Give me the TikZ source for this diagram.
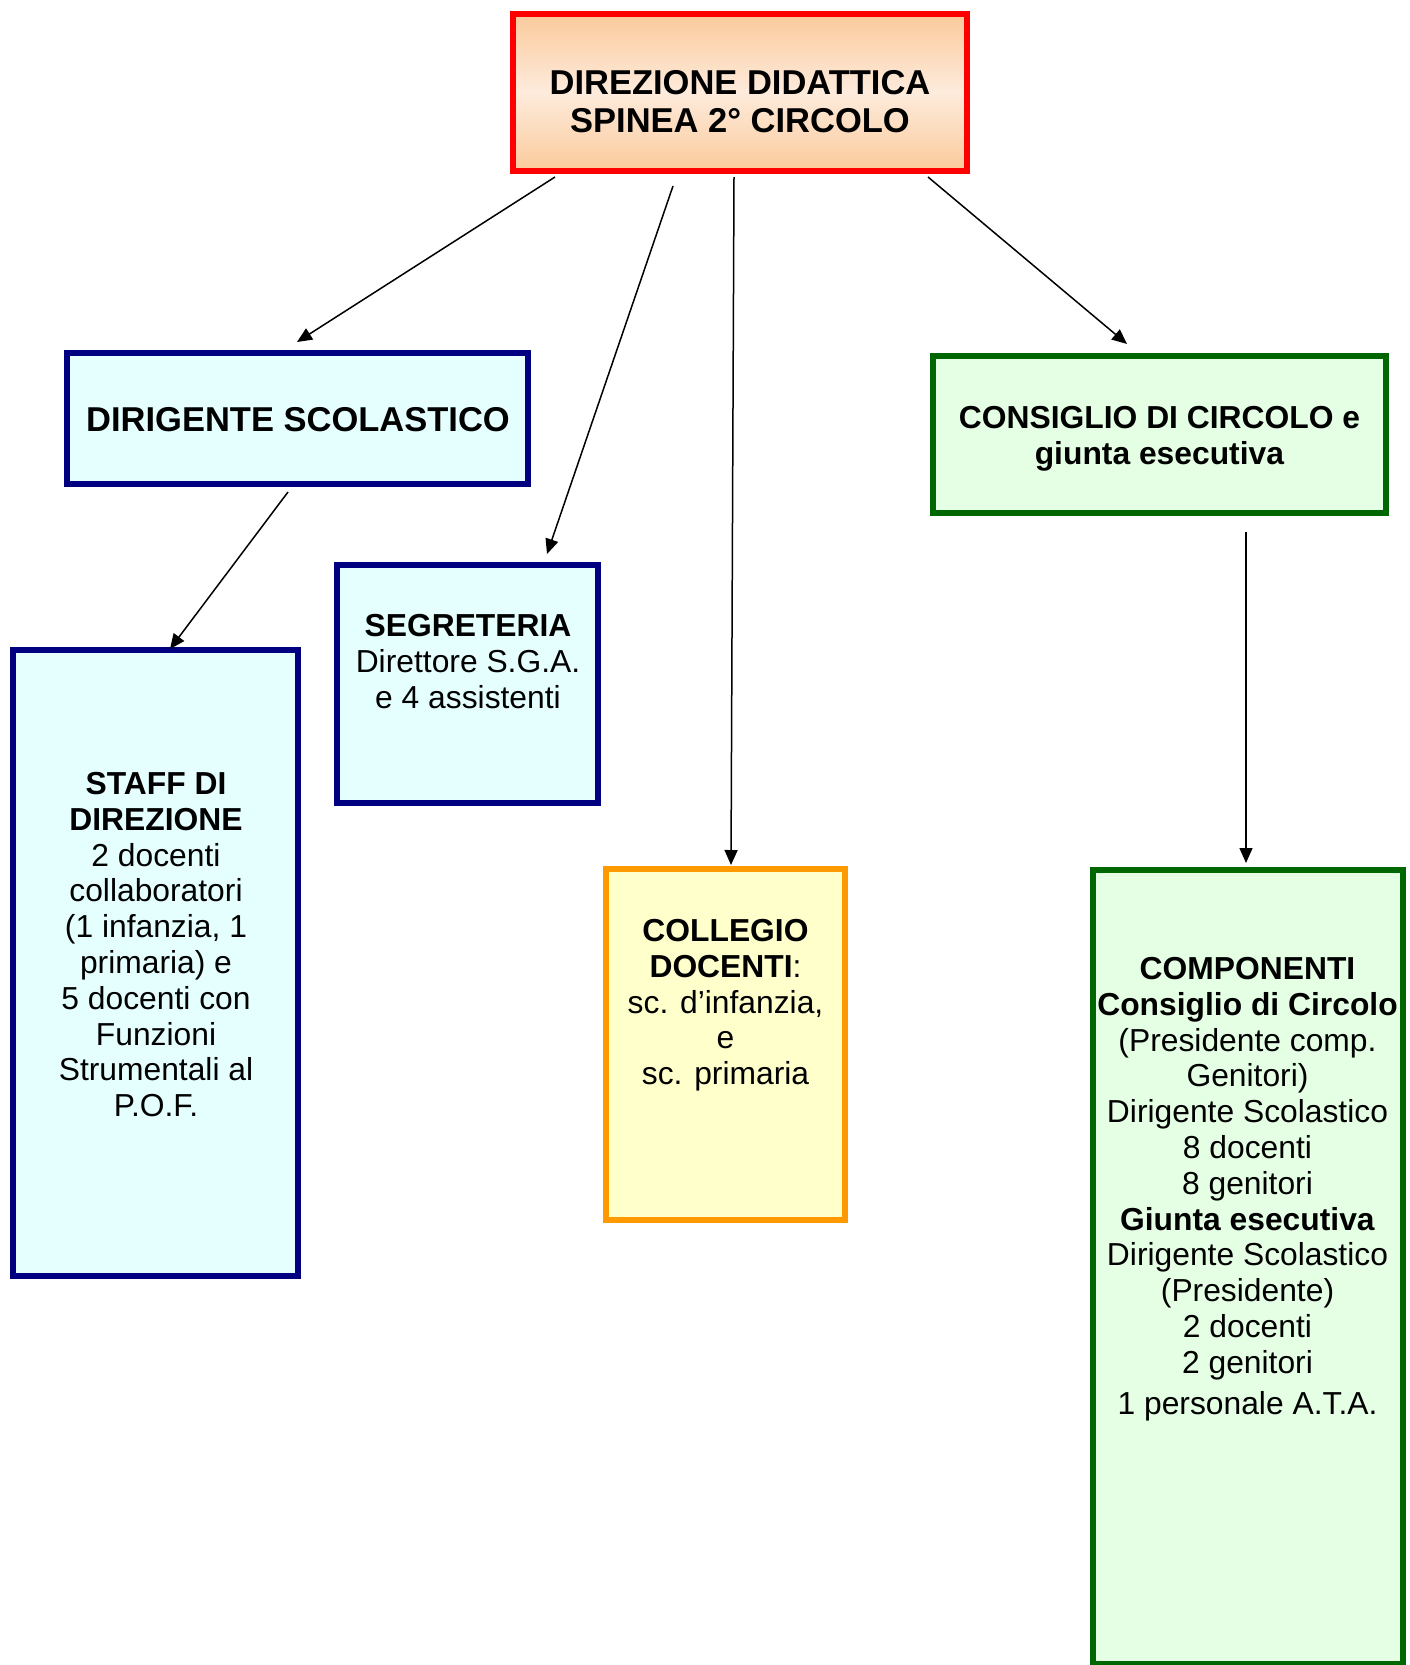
\documentclass[tikz,border=0pt]{standalone}
\usepackage{fontspec}
\setmainfont{Liberation Sans}
\usetikzlibrary{arrows.meta}
\definecolor{navyb}{HTML}{000080}
\definecolor{cyanf}{HTML}{E5FFFF}
\definecolor{greenb}{HTML}{006600}
\definecolor{greenf}{HTML}{E5FFE5}
\definecolor{orangeb}{HTML}{FF9900}
\definecolor{yellowf}{HTML}{FFFFCC}
\definecolor{peachd}{HTML}{FBCA9B}
\definecolor{peachl}{HTML}{FDEBDC}
\definecolor{redb}{HTML}{FF0000}
\begin{document}
\begin{tikzpicture}[x=1pt,y=-1pt,
  boxbase/.style={draw, line width=5.5pt, inner sep=0pt, anchor=north west},
  bluebox/.style={boxbase, draw=navyb, fill=cyanf},
  greenbox/.style={boxbase, draw=greenb, fill=greenf},
  orangebox/.style={boxbase, draw=orangeb, fill=yellowf},
  redbox/.style={boxbase, draw=redb, top color=peachd, bottom color=peachd, middle color=peachl},
  txt/.style={inner sep=0pt, anchor=north, align=center, font=\fontsize{31.8}{35.8}\selectfont},
  bigtxt/.style={inner sep=0pt, anchor=north, align=center, font=\fontsize{34.5}{37.5}\selectfont},
  conn/.style={line width=1.5pt, -{Triangle[length=15pt,width=13pt]}}
]
\path[fill=white,use as bounding box] (0,0) rectangle (1409,1665);

% boxes
\node[redbox, minimum width=454pt, minimum height=157pt] (top) at (510,11) {};
\node[bluebox, minimum width=461pt, minimum height=131pt] (dir) at (64,350) {};
\node[greenbox, minimum width=453pt, minimum height=157pt] (cons) at (930,353) {};
\node[bluebox, minimum width=261pt, minimum height=238pt] (seg) at (334,562) {};
\node[bluebox, minimum width=285pt, minimum height=626pt] (staff) at (10,647) {};
\node[orangebox, minimum width=239pt, minimum height=351pt] (coll) at (603,866) {};
\node[greenbox, minimum width=310pt, minimum height=794pt] (comp) at (1090,867) {};

% texts
\node[bigtxt] (topt) at (740,68.5) {\strut\textbf{DIREZIONE DIDATTICA}\\\textbf{SPINEA 2° CIRCOLO}};
\node[bigtxt] (dirt) at (298,405) {\strut\textbf{DIRIGENTE SCOLASTICO}};
\node[txt] (const) at (1159.5,403.3) {\strut\textbf{CONSIGLIO DI CIRCOLO e}\\\textbf{giunta esecutiva}};
\node[txt] (segt) at (468,611.3) {\strut\textbf{SEGRETERIA}\\Direttore S.G.A.\\e 4 assistenti};
\node[txt] (stafft) at (156,769.3) {\strut\textbf{STAFF DI}\\\textbf{DIREZIONE}\\2 docenti\\collaboratori\\(1 infanzia, 1\\primaria) e\\5 docenti con\\Funzioni\\Strumentali al\\P.O.F.};
\node[txt] (collt) at (725.5,916.3) {\strut\textbf{COLLEGIO}\\\textbf{DOCENTI}:\\sc. d’infanzia,\\e\\sc. primaria};
\node[txt] (compt) at (1247.5,954.3) {\strut\textbf{COMPONENTI}\\\textbf{Consiglio di Circolo}\\(Presidente comp.\\Genitori)\\Dirigente Scolastico\\8 docenti\\8 genitori\\\textbf{Giunta esecutiva}\\Dirigente Scolastico\\(Presidente)\\2 docenti\\2 genitori\\[5pt]1 personale A.T.A.};

% connector ends
\coordinate (a1s) at (555,177);  \coordinate (a1e) at (297,342);
\coordinate (a2s) at (673,186);  \coordinate (a2e) at (547,554);
\coordinate (a3s) at (734,177);  \coordinate (a3e) at (731,865);
\coordinate (a4s) at (928,177);  \coordinate (a4e) at (1127,344);
\coordinate (a5s) at (288,492);  \coordinate (a5e) at (170,649);
\coordinate (a6s) at (1246,532); \coordinate (a6e) at (1246,863);

\draw[conn] (a1s) -- (a1e);
\draw[conn] (a2s) -- (a2e);
\draw[conn] (a3s) -- (a3e);
\draw[conn] (a4s) -- (a4e);
\draw[conn] (a5s) -- (a5e);
\draw[conn] (a6s) -- (a6e);
\end{tikzpicture}
\end{document}
